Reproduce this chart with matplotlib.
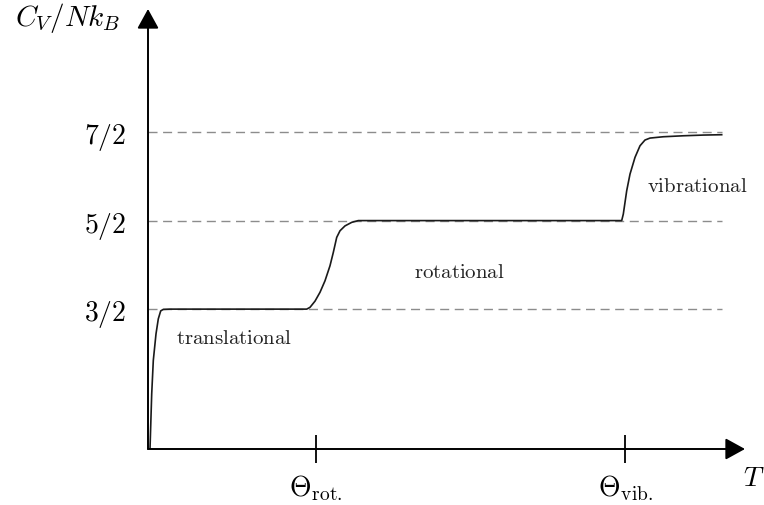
import matplotlib
matplotlib.use('Agg')
import matplotlib.pyplot as plt

# heat capacity of a diatomic gas
# (T in arbitrary units, Cv in units of N k_B)
T_vals = [0.02, 0.037, 0.053, 0.08, 0.103, 0.127, 0.153, 0.22, 1.0, 1.52,
          1.587, 1.62, 1.67, 1.72, 1.77, 1.82, 1.853, 1.887, 1.92, 1.97,
          2.037, 2.103, 3.0, 4.0, 4.70, 4.737, 4.753, 4.787, 4.82, 4.87,
          4.92, 4.97, 5.02, 5.153, 5.353, 5.553, 5.737]
cv_vals = [-0.08, 0.54, 0.92, 1.22, 1.39, 1.48, 1.497, 1.5, 1.5, 1.5,
           1.5, 1.52, 1.59, 1.69, 1.82, 1.99, 2.14, 2.31, 2.385, 2.44,
           2.48, 2.5, 2.5, 2.5, 2.5, 2.5, 2.573, 2.837, 3.025, 3.214,
           3.345, 3.41, 3.432, 3.447, 3.458, 3.466, 3.47]

levels = [1.5, 2.5, 3.5]
level_labels = [r'$3/2$', r'$5/2$', r'$7/2$']

theta_pos = [1.68, 4.77]
theta_labels = [r'$\Theta_{\mathrm{rot.}}$', r'$\Theta_{\mathrm{vib.}}$']

regions = ['translational', 'rotational', 'vibrational']

plt.rcParams['mathtext.fontset'] = 'cm'

fig = plt.figure(figsize=(7.64, 5.06), dpi=100)
ax = fig.add_axes([148/764, 56/506, (745-148)/764, 440/506])
x_max = 5.97
y_min, y_max = -0.08, 4.89
ax.set_xlim(0, x_max)
ax.set_ylim(y_min, y_max)

for s in ax.spines.values():
    s.set_visible(False)

# dashed reference levels
for lv in levels:
    ax.plot([0, 5.74], [lv, lv], color='#8c8c8c', lw=1.0, ls=(0, (6.5, 4)))

# the curve
ax.plot(T_vals, cv_vals, color='#1a1a1a', lw=1.2)

# axes with arrow heads
arrow = dict(arrowstyle='-|>,head_length=0.6,head_width=0.33', color='black',
             lw=1.4, mutation_scale=20, shrinkA=0, shrinkB=0)
ax.annotate('', xy=(x_max, y_min), xytext=(0, y_min), arrowprops=arrow,
            annotation_clip=False)
ax.annotate('', xy=(0, y_max), xytext=(0, y_min), arrowprops=arrow,
            annotation_clip=False)

ax.set_xticks(theta_pos)
ax.set_xticklabels(theta_labels, fontsize=20)
ax.tick_params(axis='x', direction='inout', length=20, width=1.3, pad=7)
ax.set_yticks(levels)
ax.set_yticklabels(level_labels, fontsize=20)
ax.tick_params(axis='y', length=0, pad=16)

# region labels
txt = dict(fontsize=15, color='#222222', ha='center', va='center')
ax.text(0.86, 1.18, r'$\mathrm{%s}$' % regions[0], **txt)
ax.text(3.11, 1.93, r'$\mathrm{%s}$' % regions[1], **txt)
ax.text(5.49, 2.90, r'$\mathrm{%s}$' % regions[2], **txt)

fig.text(68/764, 1 - 18/506, r'$C_V/Nk_B$', fontsize=21, ha='center', va='center')
fig.text(754/764, 1 - 478/506, r'$T$', fontsize=20, ha='center', va='center')

fig.savefig('out.png', dpi=100)
